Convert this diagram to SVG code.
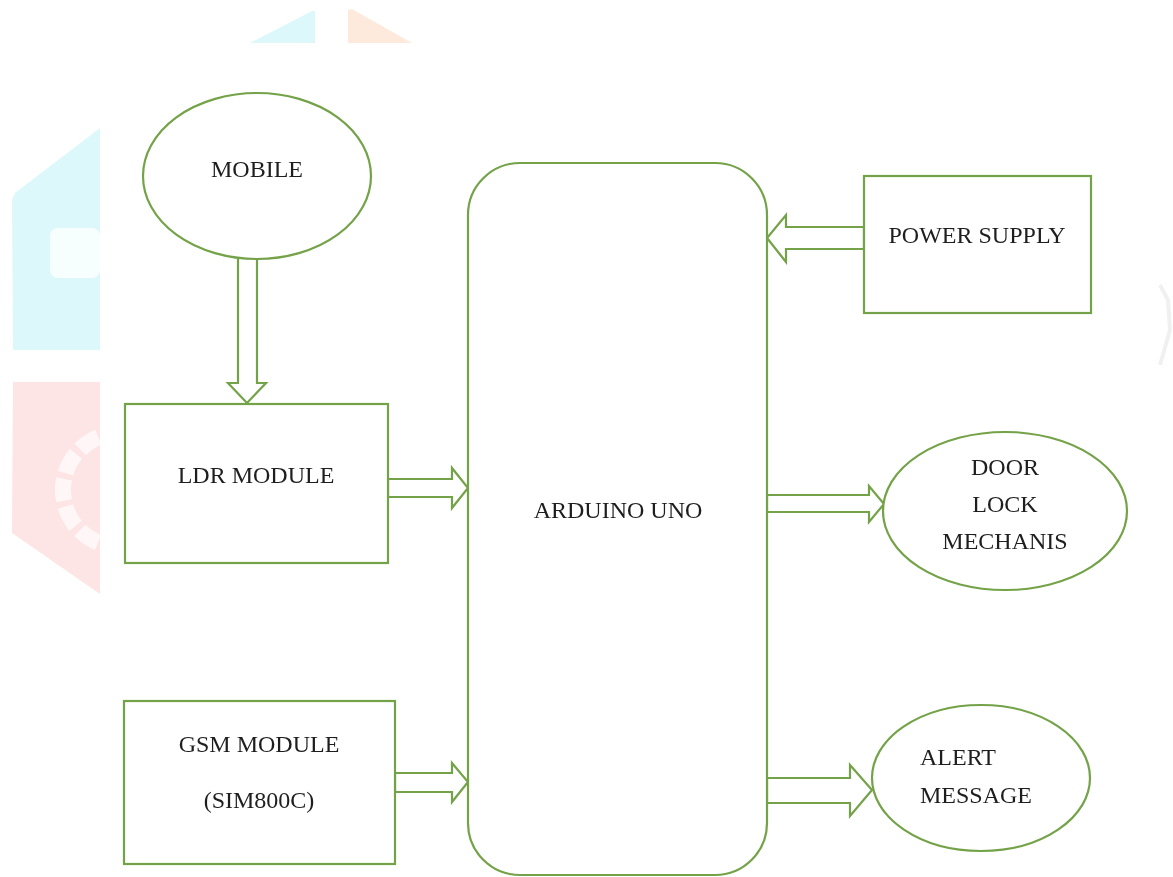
<svg xmlns="http://www.w3.org/2000/svg" width="1173" height="877" viewBox="0 0 1173 877">
<defs>
<style>
.shape{fill:#ffffff;stroke:#74a248;stroke-width:2.2}
.arrow{fill:#ffffff;stroke:#74a248;stroke-width:2.2;stroke-linejoin:miter}
.lbl{font-family:"Liberation Serif","Times New Roman",serif;font-size:24px;fill:#1e1e1e}
.c{text-anchor:middle}
</style>
<clipPath id="leftclip"><rect x="0" y="0" width="100" height="877"/></clipPath>
</defs>
<rect width="1173" height="877" fill="#ffffff"/>
<g id="watermark" opacity="0.9">
<polygon points="250,43 312,11 315,11 315,43" fill="#d8f8fb"/>
<polygon points="348,10 352,9 412,43 348,43" fill="#fde8d8"/>
<polygon points="100,128 15,193 12,200 13,350 100,350" fill="#d8f8fb"/>
<rect x="50" y="228" width="50" height="50" rx="8" fill="#ffffff" opacity="0.8"/>
<polygon points="13,382 100,382 100,594 12,533" fill="#fde2e2"/>
<g clip-path="url(#leftclip)"><circle cx="120" cy="490" r="57" fill="none" stroke="#ffffff" stroke-width="16" stroke-dasharray="22 6" opacity="0.7"/></g>
<path d="M1160,285 L1168,300 L1170,330 L1160,365" fill="none" stroke="#efefef" stroke-width="4"/>
</g>
<g id="connectors">
<path class="arrow" d="M238,259 L238,383 L228,383 L247,403 L266,383 L257,383 L257,259"/>
<path class="arrow" d="M388,479 L452,479 L452,468 L468,488 L452,508 L452,497 L388,497 Z"/>
<path class="arrow" d="M395,773 L452,773 L452,763 L468,782 L452,802 L452,792 L395,792 Z"/>
<path class="arrow" d="M864,227 L786,227 L786,215 L767,238 L786,262 L786,249 L864,249 Z"/>
<path class="arrow" d="M767,495 L869,495 L869,486 L884,504 L869,522 L869,512 L767,512 Z"/>
<path class="arrow" d="M767,778 L850,778 L850,765 L872,790 L850,816 L850,803 L767,803 Z"/>
</g>
<g id="mobile">
<ellipse class="shape" cx="257" cy="176" rx="114" ry="83"/>
<text class="lbl c" x="257" y="177">MOBILE</text>
</g>
<g id="ldr">
<rect class="shape" x="125" y="404" width="263" height="159"/>
<text class="lbl c" x="256" y="483">LDR MODULE</text>
</g>
<g id="gsm">
<rect class="shape" x="124" y="701" width="271" height="163"/>
<text class="lbl c" x="259" y="752">GSM MODULE</text>
<text class="lbl c" x="259" y="808">(SIM800C)</text>
</g>
<g id="arduino">
<rect class="shape" x="468" y="163" width="299" height="712" rx="52" ry="52"/>
<text class="lbl c" x="618" y="518">ARDUINO UNO</text>
</g>
<g id="power">
<rect class="shape" x="864" y="176" width="227" height="137"/>
<text class="lbl c" x="977" y="243">POWER SUPPLY</text>
</g>
<g id="door">
<ellipse class="shape" cx="1005" cy="511" rx="122" ry="79"/>
<text class="lbl c" x="1005" y="475">DOOR</text>
<text class="lbl c" x="1005" y="512">LOCK</text>
<text class="lbl c" x="1005" y="549">MECHANIS</text>
</g>
<g id="alert">
<ellipse class="shape" cx="981" cy="778" rx="109" ry="73"/>
<text class="lbl" x="920" y="765">ALERT</text>
<text class="lbl" x="920" y="803">MESSAGE</text>
</g>
</svg>
